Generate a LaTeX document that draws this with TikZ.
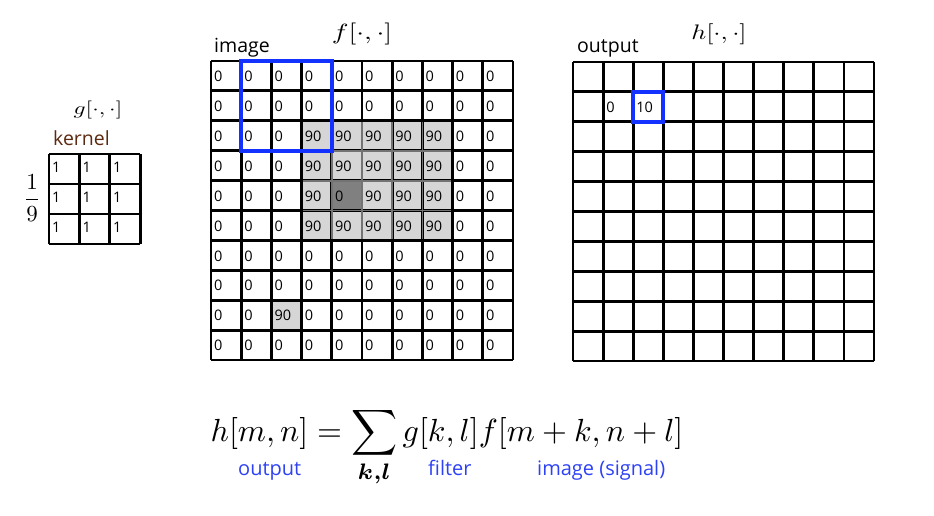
\documentclass[tikz,border=0pt]{standalone}
\usepackage{amsmath}
\usepackage{fontspec}
\newfontfamily\osf{Open Sans}
\definecolor{boxblue}{RGB}{20,50,255}
\definecolor{txtblue}{RGB}{45,65,245}
\definecolor{lightg}{RGB}{214,214,214}
\definecolor{darkg}{RGB}{128,128,128}
\definecolor{kerncol}{RGB}{92,42,16}
\tikzset{
  gridline/.style={line width=2.8pt, black},
  innerg/.style={line width=1.8pt, color=darkg!90!black},
  bluebox/.style={line width=4pt, boxblue},
  celltxt/.style={anchor=west, inner sep=0pt, font=\osf\fontsize{14.5}{16}\selectfont},
  lbl/.style={anchor=base west, inner sep=0pt, font=\osf\fontsize{19.5}{22}\selectfont},
  bluelbl/.style={anchor=base west, inner sep=0pt, text=txtblue, font=\osf\fontsize{20}{22}\selectfont},
  mathlbl/.style={anchor=base, inner sep=0pt, font=\fontsize{10}{12}\selectfont}
}
\begin{document}
\begin{tikzpicture}[x=1pt,y=-1pt]
\useasboundingbox (0,0) rectangle (934,516);
% ---------- image grid f ----------
\def\fx{211}\def\fy{61}\def\fw{30.2}\def\fh{29.9}
% gray fills
\foreach \r in {2,3,4,5}{
  \foreach \c in {3,4,5,6,7}{
    \fill[lightg] ({\fx+\c*\fw},{\fy+\r*\fh}) rectangle ++(\fw,\fh);
  }
}
\fill[darkg] ({\fx+4*\fw},{\fy+4*\fh}) rectangle ++(\fw,\fh);
\fill[lightg] ({\fx+2*\fw},{\fy+8*\fh}) rectangle ++(\fw,\fh);
% grid lines
\foreach \i in {0,...,10}{
  \draw[gridline] ({\fx+\i*\fw},\fy) -- ({\fx+\i*\fw},{\fy+10*\fh});
  \draw[gridline] (\fx,{\fy+\i*\fh}) -- ({\fx+10*\fw},{\fy+\i*\fh});
}
% inner gray lines of shaded block
\foreach \c in {4,5,6,7}{
  \draw[innerg] ({\fx+\c*\fw},{\fy+2*\fh+1.5}) -- ({\fx+\c*\fw},{\fy+6*\fh-1.5});
}
\foreach \r in {3,4,5}{
  \draw[innerg] ({\fx+3*\fw+1.5},{\fy+\r*\fh}) -- ({\fx+8*\fw-1.5},{\fy+\r*\fh});
}
% values
\foreach \r/\vals in {0/{0,0,0,0,0,0,0,0,0,0},
                      1/{0,0,0,0,0,0,0,0,0,0},
                      2/{0,0,0,90,90,90,90,90,0,0},
                      3/{0,0,0,90,90,90,90,90,0,0},
                      4/{0,0,0,90,0,90,90,90,0,0},
                      5/{0,0,0,90,90,90,90,90,0,0},
                      6/{0,0,0,0,0,0,0,0,0,0},
                      7/{0,0,0,0,0,0,0,0,0,0},
                      8/{0,0,90,0,0,0,0,0,0,0},
                      9/{0,0,0,0,0,0,0,0,0,0}}{
  \foreach \v [count=\c from 0] in \vals {
    \node[celltxt] (f-\r-\c) at ({\fx+\c*\fw+3},{\fy+(\r+0.5)*\fh+0.5}) {\v};
  }
}
\draw[bluebox] ({\fx+1*\fw},\fy) rectangle ({\fx+4*\fw},{\fy+3*\fh});
\node[lbl] (imglbl) at (214,52.5) {image};
\node[mathlbl, xscale=2.8, yscale=2.2] (flbl) at (362,39.5) {$f[\cdot,\cdot]$};
% ---------- output grid h ----------
\def\hx{573}\def\hy{62}\def\hw{30.1}\def\hh{29.9}
\foreach \i in {0,...,10}{
  \draw[gridline] ({\hx+\i*\hw},\hy) -- ({\hx+\i*\hw},{\hy+10*\hh});
  \draw[gridline] (\hx,{\hy+\i*\hh}) -- ({\hx+10*\hw},{\hy+\i*\hh});
}
\node[celltxt] (h-1-1) at ({\hx+1*\hw+3},{\hy+1.5*\hh+0.5}) {0};
\node[celltxt] (h-1-2) at ({\hx+2*\hw+3},{\hy+1.5*\hh+0.5}) {10};
\draw[bluebox] ({\hx+2*\hw},{\hy+\hh}) rectangle ({\hx+3*\hw},{\hy+2*\hh});
\node[lbl] (outlbl) at (577,52.5) {output};
\node[mathlbl, xscale=2.6, yscale=2.1] (hlbl) at (719,40) {$h[\cdot,\cdot]$};
% ---------- kernel g ----------
\def\gx{49}\def\gy{154}\def\gw{30.4}\def\gh{30}
\foreach \i in {0,...,3}{
  \draw[gridline] ({\gx+\i*\gw},\gy) -- ({\gx+\i*\gw},{\gy+3*\gh});
  \draw[gridline] (\gx,{\gy+\i*\gh}) -- ({\gx+3*\gw},{\gy+\i*\gh});
}
\foreach \r in {0,1,2}{
  \foreach \c in {0,1,2}{
    \node[celltxt] (g-\r-\c) at ({\gx+\c*\gw+3},{\gy+(\r+0.5)*\gh-2}) {1};
  }
}
\node[lbl, text=kerncol] (kernlbl) at (53,146) {kernel};
\node[mathlbl, xscale=2.35, yscale=1.8] (glbl) at (98,114.5) {$g[\cdot,\cdot]$};
\node[inner sep=0pt, scale=2.3, font=\fontsize{10}{12}\selectfont] (frac) at (32,198) {$\dfrac{1}{9}$};
% ---------- formula ----------
\node[anchor=base west, inner sep=0pt, scale=3.2, font=\fontsize{10}{12}\selectfont] (formula) at (210,441)
  {$\displaystyle h[m,n]=\sum\limits_{\boldsymbol{k,l}} g[k,l]f[m+k,n+l]$};
\node[bluelbl] (lout) at (238,475.5) {output};
\node[bluelbl] (lfilt) at (428,475.5) {filter};
\node[bluelbl] (limg) at (537,475.5) {image (signal)};
\end{tikzpicture}
\end{document}
